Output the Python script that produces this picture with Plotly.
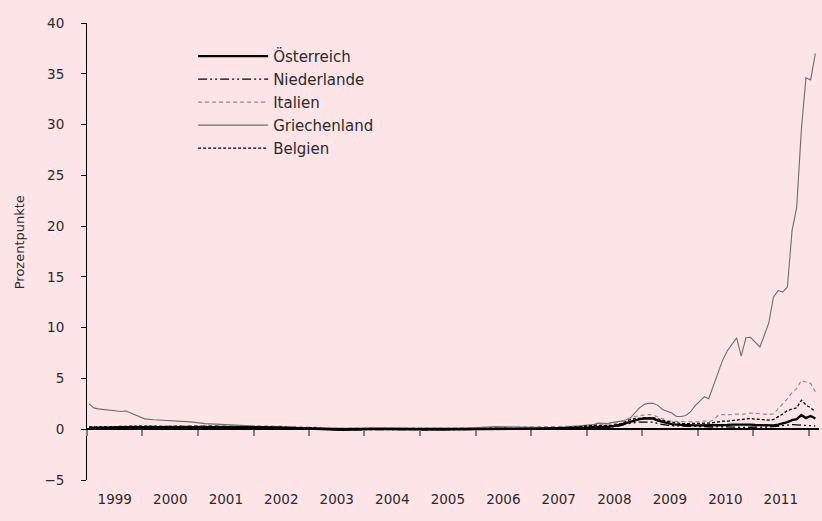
import plotly.graph_objects as go

# x positions (mid-month observations)
dates = ([f"1999-{m:02d}-15" for m in range(1, 13)]
         + [f"2000-{m:02d}-15" for m in (1, 3, 5, 7, 9, 11)]
         + [f"{y}-{m:02d}-15" for y in range(2001, 2008) for m in (2, 5, 8, 11)]
         + [f"{y}-{m:02d}-15" for y in range(2008, 2012) for m in range(1, 13)]
         + ["2012-01-15", "2012-02-15"])

griechenland = [2.5, 2.1, 2.0, 1.95, 1.85, 1.8, 1.82, 1.75, 1.8, 1.6, 1.4, 1.15,
                1.02, 0.93, 0.88, 0.83, 0.78, 0.72,
                0.55, 0.5, 0.45, 0.35,
                0.25, 0.22, 0.2, 0.18,
                0.15, 0.1, 0.1, 0.12,
                0.12, 0.12, 0.1, 0.1,
                0.05, 0.08, 0.1, 0.12,
                0.2, 0.27, 0.25, 0.2,
                0.15, 0.15, 0.22, 0.3,
                0.35, 0.45, 0.6, 0.55, 0.55, 0.65, 0.7, 0.8, 0.9, 1.1, 1.6, 2.1,
                2.45, 2.55, 2.55, 2.35, 1.95, 1.75, 1.6, 1.25, 1.25, 1.35, 1.7, 2.3,
                2.8, 3.2, 3.0, 4.3, 5.6, 6.8, 7.7, 8.4, 9.0, 7.2, 9.0, 9.05,
                8.6, 8.1, 9.2, 10.5, 13.0, 13.65, 13.5, 14.0, 19.6, 21.8, 29.5, 34.6,
                34.4, 37.0]

italien = [0.2, 0.2, 0.22, 0.22, 0.25, 0.25, 0.25, 0.25, 0.27, 0.28, 0.28, 0.3,
           0.3, 0.3, 0.32, 0.32, 0.33, 0.35,
           0.38, 0.38, 0.4, 0.38,
           0.33, 0.3, 0.28, 0.25,
           0.2, 0.15, 0.1, 0.12,
           0.12, 0.12, 0.12, 0.13,
           0.12, 0.13, 0.15, 0.17,
           0.2, 0.22, 0.22, 0.2,
           0.2, 0.22, 0.25, 0.3,
           0.35, 0.45, 0.5, 0.5, 0.5, 0.55, 0.6, 0.7, 0.9, 1.1, 1.25, 1.35,
           1.4, 1.45, 1.4, 1.2, 1.0, 0.85, 0.8, 0.75, 0.72, 0.72, 0.72, 0.72,
           0.75, 0.8, 0.75, 0.9, 1.35, 1.45, 1.4, 1.45, 1.5, 1.45, 1.55, 1.6,
           1.55, 1.5, 1.5, 1.45, 1.5, 2.0, 2.5, 3.0, 3.6, 4.0, 4.8, 4.65,
           4.5, 3.7]

belgien = [0.22, 0.22, 0.25, 0.25, 0.25, 0.27, 0.27, 0.28, 0.28, 0.3, 0.3, 0.3,
           0.3, 0.3, 0.3, 0.32, 0.32, 0.32,
           0.32, 0.3, 0.3, 0.28,
           0.25, 0.22, 0.2, 0.18,
           0.12, 0.05, 0.02, 0.05,
           0.05, 0.05, 0.05, 0.05,
           0.03, 0.03, 0.05, 0.05,
           0.05, 0.08, 0.08, 0.07,
           0.05, 0.08, 0.15, 0.25,
           0.3, 0.35, 0.4, 0.35, 0.35, 0.4, 0.45, 0.55, 0.75, 0.95, 1.05, 1.1,
           1.1, 1.15, 1.15, 1.0, 0.85, 0.75, 0.7, 0.6, 0.55, 0.55, 0.55, 0.55,
           0.55, 0.6, 0.6, 0.65, 0.75, 0.8, 0.8, 0.85, 0.95, 1.0, 1.05, 1.05,
           1.0, 0.95, 0.9, 0.9, 0.95, 1.2, 1.5, 1.85, 2.0, 2.1, 2.85, 2.4,
           2.1, 1.75]

oesterreich = [0.12, 0.12, 0.15, 0.15, 0.17, 0.18, 0.18, 0.2, 0.2, 0.22, 0.22, 0.22,
               0.22, 0.22, 0.25, 0.25, 0.25, 0.25,
               0.27, 0.25, 0.25, 0.22,
               0.2, 0.18, 0.15, 0.12,
               0.08, 0.0, -0.05, 0.0,
               0.02, 0.02, 0.0, 0.0,
               -0.02, -0.02, 0.0, 0.02,
               0.05, 0.07, 0.07, 0.05,
               0.05, 0.07, 0.1, 0.15,
               0.18, 0.22, 0.25, 0.22, 0.22, 0.25, 0.35, 0.45, 0.6, 0.75, 0.9, 1.0,
               1.05, 1.05, 1.05, 0.85, 0.72, 0.6, 0.5, 0.45, 0.42, 0.4, 0.4, 0.38,
               0.38, 0.38, 0.35, 0.36, 0.4, 0.42, 0.42, 0.45, 0.46, 0.45, 0.46, 0.45,
               0.42, 0.4, 0.38, 0.36, 0.38, 0.45, 0.55, 0.7, 0.9, 1.0, 1.4, 1.1,
               1.3, 1.05]

niederlande = [0.08, 0.08, 0.1, 0.1, 0.1, 0.12, 0.12, 0.12, 0.12, 0.14, 0.14, 0.15,
               0.15, 0.15, 0.15, 0.15, 0.15, 0.15,
               0.15, 0.15, 0.14, 0.12,
               0.1, 0.1, 0.08, 0.06,
               0.02, -0.05, -0.08, -0.05,
               -0.03, -0.02, -0.02, -0.03,
               -0.05, -0.05, -0.03, -0.02,
               0.0, 0.02, 0.02, 0.02,
               0.02, 0.03, 0.06, 0.1,
               0.12, 0.15, 0.2, 0.2, 0.2, 0.22, 0.3, 0.35, 0.5, 0.6, 0.65, 0.7,
               0.72, 0.72, 0.7, 0.55, 0.45, 0.4, 0.35, 0.33, 0.3, 0.28, 0.25, 0.25,
               0.25, 0.23, 0.22, 0.22, 0.25, 0.22, 0.2, 0.2, 0.2, 0.18, 0.2, 0.2,
               0.22, 0.22, 0.22, 0.22, 0.25, 0.3, 0.35, 0.4, 0.46, 0.42, 0.4, 0.35,
               0.33, 0.32]

y_range = [-5, 40]
x_range = ["1999-01-01", "2012-03-10"]

FONT = "DejaVu Sans"
TXT = "#2b2b2b"
BG = "#FDE4E6"

fig = go.Figure()

series = [
    ("Österreich", oesterreich, dict(color="black", width=2.4, dash="solid")),
    ("Niederlande", niederlande, dict(color="black", width=1.3, dash="9px,3px,2px,3px,2px,3px")),
    ("Italien", italien, dict(color="#8a8a8a", width=1.1, dash="4px,3px")),
    ("Griechenland", griechenland, dict(color="#6e6e6e", width=1.1, dash="solid")),
    ("Belgien", belgien, dict(color="black", width=1.3, dash="3px,2px")),
]
draw_order = [3, 2, 4, 1, 0]
for i in draw_order:
    name, vals, line = series[i]
    fig.add_trace(go.Scatter(x=dates, y=vals, name=name, mode="lines", line=line,
                             legendgroup=name, legendrank=i + 1))

zero_pos = (0 - y_range[0]) / (y_range[1] - y_range[0])

fig.update_layout(
    width=822, height=521,
    margin=dict(l=87, r=3, t=23, b=41, autoexpand=False),
    paper_bgcolor=BG, plot_bgcolor=BG,
    font=dict(family=FONT, size=14, color=TXT),
    showlegend=True,
    legend=dict(x=0.145, y=0.963, xanchor="left", yanchor="top",
                bgcolor="rgba(0,0,0,0)", itemwidth=70, tracegroupgap=0.5,
                font=dict(family=FONT, size=15, color=TXT), traceorder="grouped"),
    xaxis=dict(type="date", range=x_range, showgrid=False, zeroline=False,
               anchor="free", position=zero_pos, automargin=False,
               showline=True, linecolor="black", linewidth=1.5,
               ticks="outside", ticklen=6, tickcolor="#7f7f7f", tickwidth=1.5,
               dtick="M12", tick0="1999-01-01", tickformat="%Y",
               ticklabelmode="period", ticklabelstandoff=52,
               tickfont=dict(family=FONT, size=13.5, color=TXT)),
    yaxis=dict(range=y_range, dtick=5, tick0=0, showgrid=False, zeroline=False,
               showline=True, linecolor="black", linewidth=1, automargin=False,
               ticks="outside", ticklen=5, tickcolor="black", ticklabelstandoff=14,
               tickfont=dict(family=FONT, size=13.5, color=TXT)),
    annotations=[dict(text="Prozentpunkte", textangle=-90, xref="paper", yref="paper",
                      x=-0.093, y=0.52, xanchor="center", yanchor="middle", showarrow=False,
                      font=dict(family=FONT, size=13, color=TXT))],
)

fig.write_html("out.html", config={"displayModeBar": False},
               post_script="document.body.style.margin='0';document.body.style.background='%s';" % BG)
